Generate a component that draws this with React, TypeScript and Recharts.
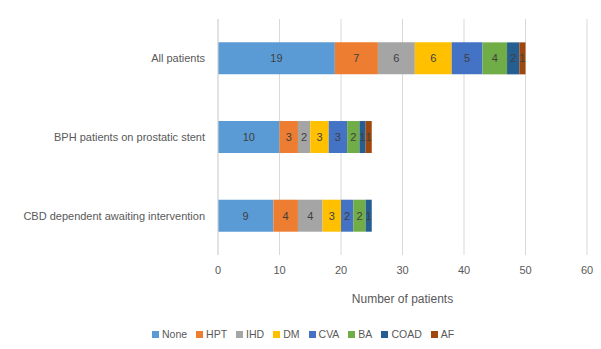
import React from 'react';
import { BarChart, Bar, XAxis, YAxis, CartesianGrid, LabelList } from 'recharts';

const groups = [
  'All patients',
  'BPH patients on prostatic stent',
  'CBD dependent awaiting intervention',
];

const none = [19, 10, 9];
const hpt = [7, 3, 4];
const ihd = [6, 2, 4];
const dm = [6, 3, 3];
const cva = [5, 3, 2];
const ba = [4, 2, 2];
const coad = [2, 1, 1];
const af = [1, 1, 0];

const xTicks = [0, 10, 20, 30, 40, 50, 60];

const seriesList = [
  { key: 'None', values: none, color: '#5B9BD5' },
  { key: 'HPT', values: hpt, color: '#ED7D31' },
  { key: 'IHD', values: ihd, color: '#A5A5A5' },
  { key: 'DM', values: dm, color: '#FFC000' },
  { key: 'CVA', values: cva, color: '#4472C4' },
  { key: 'BA', values: ba, color: '#70AD47' },
  { key: 'COAD', values: coad, color: '#255E91' },
  { key: 'AF', values: af, color: '#9E480E' },
];

const data = groups.map((name, i) => {
  const row: Record<string, string | number> = { name };
  seriesList.forEach(s => {
    row[s.key] = s.values[i];
  });
  return row;
});

const font = '"Liberation Sans", Arial, sans-serif';

// single-line category labels, right aligned against the axis
const CategoryTick = (props: any) => {
  const { x, y, payload } = props;
  return (
    <text x={x} y={y} dy={4} textAnchor="end" fill="#595959" fontSize={11} fontFamily={font}>
      {payload.value}
    </text>
  );
};

// legend in series order (stacking order), left to right
const LegendRow = () => (
  <div
    style={{
      position: 'absolute',
      top: 328,
      left: 152,
      display: 'flex',
      gap: 9,
      fontSize: 10.5,
      fontFamily: font,
      color: '#595959',
    }}
  >
    {seriesList.map(s => (
      <div key={s.key} style={{ display: 'flex', alignItems: 'center' }}>
        <span style={{ display: 'inline-block', width: 7, height: 7, background: s.color, marginRight: 3 }} />
        {s.key}
      </div>
    ))}
  </div>
);

const App: React.FC = () => {
  return (
    <div style={{ position: 'absolute', left: 0, top: 0, width: 601, height: 349, background: '#fff', fontFamily: font }}>
      <BarChart
        width={601}
        height={349}
        data={data}
        layout="vertical"
        barCategoryGap="29.7%"
        margin={{ top: 19, right: 14, left: 0, bottom: 38 }}
      >
        <CartesianGrid horizontal={false} stroke="#D9D9D9" />
        <XAxis
          type="number"
          domain={[0, 60]}
          ticks={xTicks}
          axisLine={false}
          tickLine={false}
          tickMargin={5}
          height={56}
          tick={{ fill: '#595959', fontSize: 11, fontFamily: font }}
          label={{ value: 'Number of patients', position: 'insideBottom', offset: 8, fill: '#595959', fontSize: 12, fontFamily: font }}
        />
        <YAxis
          type="category"
          dataKey="name"
          width={218}
          axisLine={{ stroke: '#D9D9D9' }}
          tickLine={false}
          tickMargin={7}
          tick={<CategoryTick />}
        />
        {seriesList.map(s => (
          <Bar key={s.key} dataKey={s.key} stackId="a" fill={s.color} isAnimationActive={false}>
            <LabelList
              dataKey={s.key}
              position="center"
              fill="#404040"
              fontSize={11}
              fontFamily={font}
              formatter={(v: number) => (v ? v : '')}
            />
          </Bar>
        ))}
      </BarChart>
      <LegendRow />
    </div>
  );
};

export default App;
